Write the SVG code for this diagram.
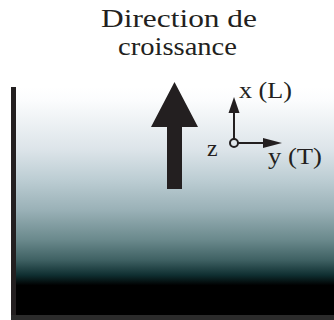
<svg xmlns="http://www.w3.org/2000/svg" width="334" height="320" viewBox="0 0 334 320">
<style>
.t{font-family:"Liberation Serif","Times New Roman",serif;fill:#231f20}
.ax{stroke:#231f20;stroke-width:2;fill:none}
</style>
<defs>
<linearGradient id="bg" gradientUnits="userSpaceOnUse" x1="0" y1="87" x2="0" y2="315">
<stop offset="0" stop-color="#ffffff"/>
<stop offset="0.06" stop-color="#fbfcfd"/>
<stop offset="0.276" stop-color="#dce4e9"/>
<stop offset="0.408" stop-color="#bccdd3"/>
<stop offset="0.539" stop-color="#9ab1b7"/>
<stop offset="0.671" stop-color="#6a898c"/>
<stop offset="0.759" stop-color="#3f6163"/>
<stop offset="0.825" stop-color="#0f2f31"/>
<stop offset="0.87" stop-color="#000000"/>
<stop offset="1" stop-color="#000000"/>
</linearGradient>
</defs>
<g id="background">
<rect x="16" y="87" width="318" height="228" fill="url(#bg)"/>
<rect x="11" y="87" width="5" height="233" fill="#231f20"/>
<rect x="11" y="315" width="323" height="5" fill="#2b2b2b"/>
</g>
<g id="title">
<text class="t" x="101" y="27" font-size="25" textLength="156" lengthAdjust="spacingAndGlyphs">Direction  de</text>
<text class="t" x="118" y="55" font-size="25" textLength="119" lengthAdjust="spacingAndGlyphs">croissance</text>
</g>
<g id="growth-arrow">
<path d="M174.5,82 L198,127 L182,127 L182,189 L167,189 L167,127 L151,127 Z" fill="#231f20"/>
</g>
<g id="connectors">
<path d="M234,139 L234,113" class="ax"/>
<path d="M228.5,113 L234,97 L239.5,113 Z" fill="#231f20"/>
<path d="M238,143 L264,143" class="ax"/>
<path d="M263,138 L282,143 L263,148 Z" fill="#231f20"/>
</g>
<g id="origin">
<circle cx="234" cy="143" r="4" fill="none" stroke="#231f20" stroke-width="2"/>
</g>
<g id="labels">
<text class="t" x="239" y="98" font-size="23" textLength="53" lengthAdjust="spacingAndGlyphs">x (L)</text>
<text class="t" x="207" y="156" font-size="24">z</text>
<text class="t" x="268" y="164" font-size="23" textLength="54" lengthAdjust="spacingAndGlyphs">y (T)</text>
</g>
</svg>
